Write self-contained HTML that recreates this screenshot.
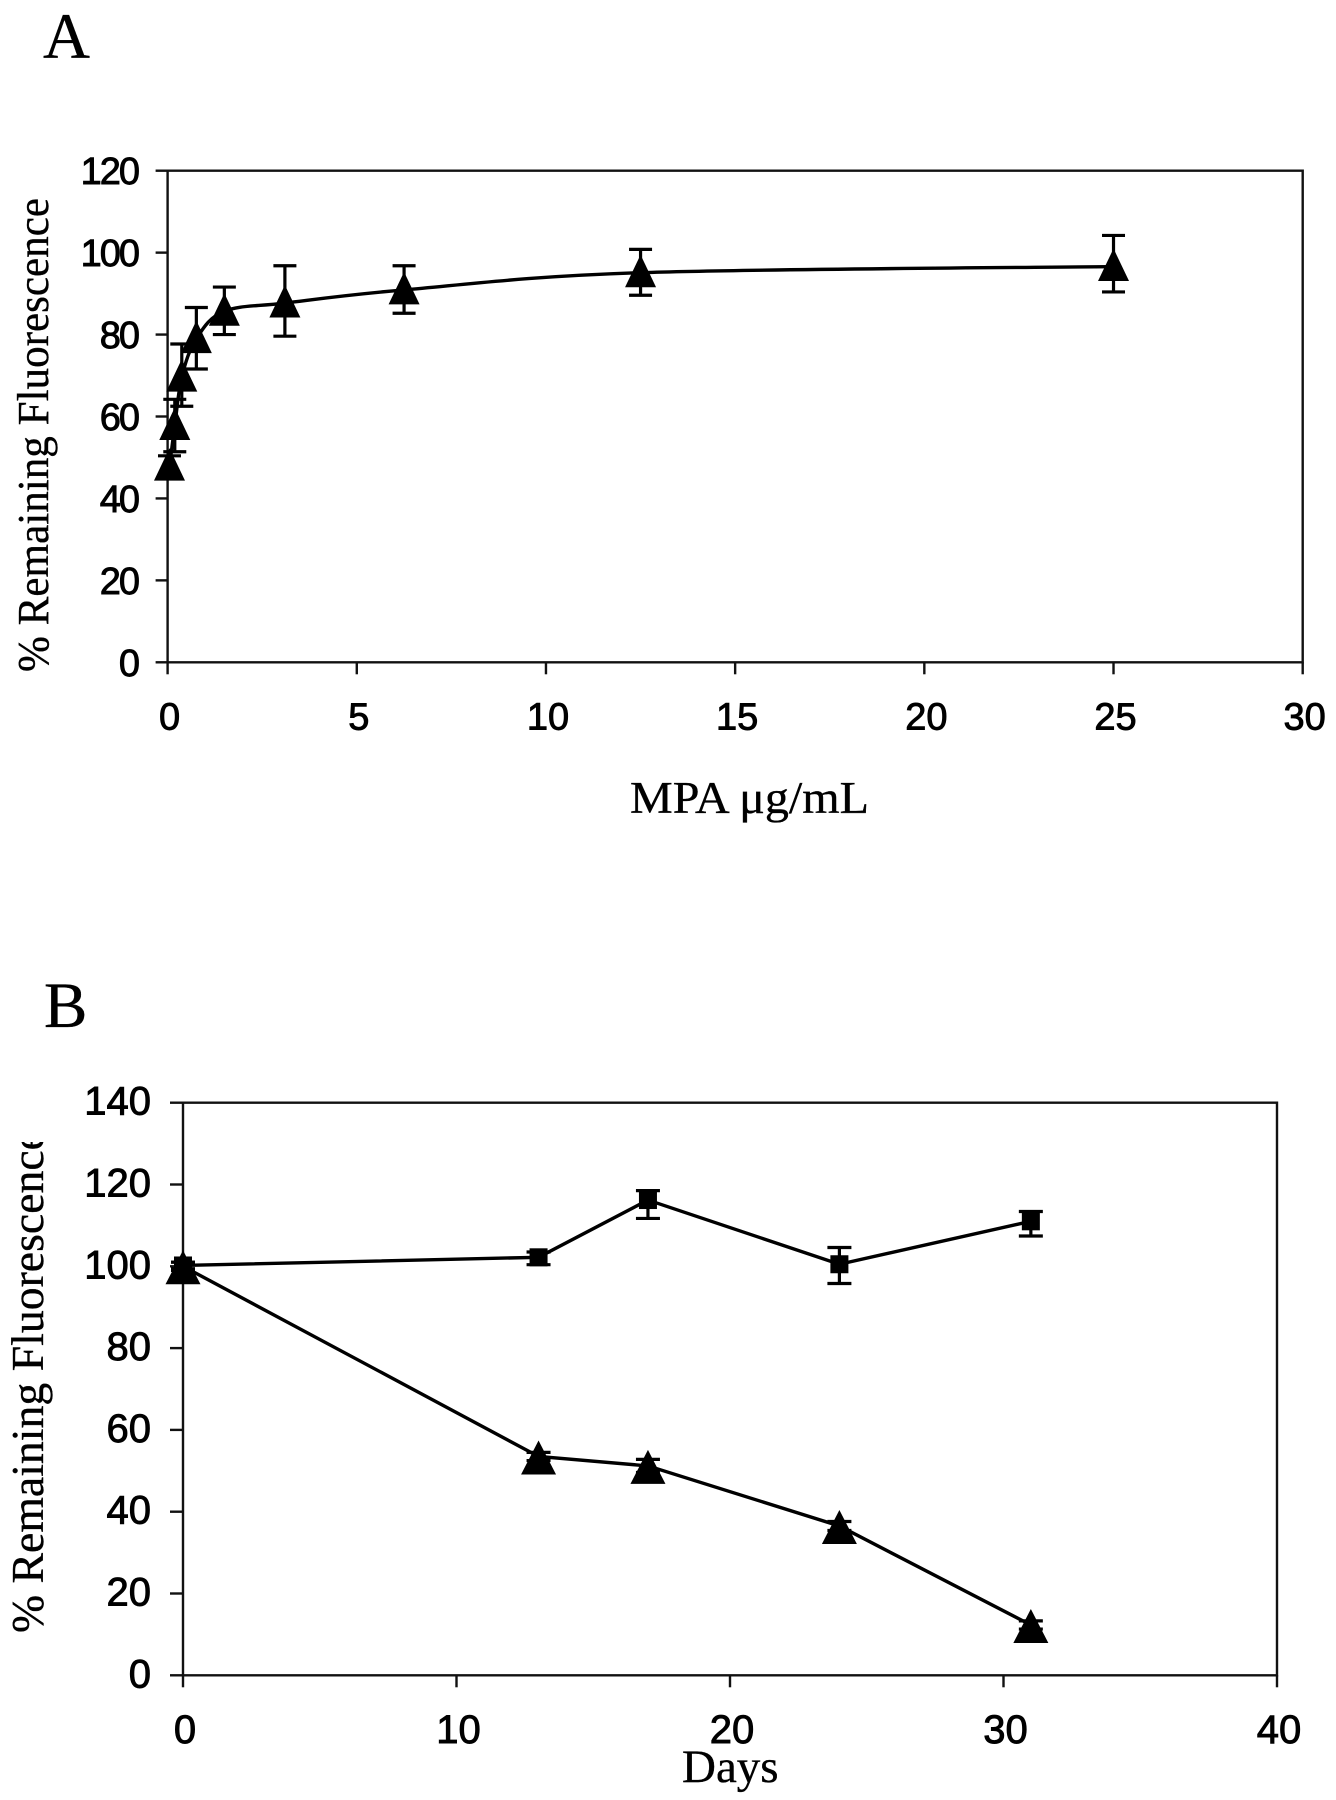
<!DOCTYPE html>
<html lang="en">
<head>
<meta charset="utf-8">
<title>Remaining fluorescence charts</title>
<style>
  html, body { margin: 0; padding: 0; background: #fff; }
  svg { display: block; }
  .tick-label { font-family: "Liberation Sans", sans-serif; fill: #000; stroke: #000; stroke-width: .9px; }
  .serif { font-family: "Liberation Serif", serif; fill: #000; stroke: #000; stroke-width: .35px; }
</style>
</head>
<body>
<svg id="fig" xmlns="http://www.w3.org/2000/svg" width="1336" height="1800" viewBox="0 0 1336 1800">
  <defs>
    <clipPath id="b-title-clip"><rect x="0" y="1142" width="70" height="520"/></clipPath>
  </defs>
  <rect x="0" y="0" width="1336" height="1800" fill="#fff"/>
  <text class="serif" x="43" y="58" font-size="65">A</text>
  <text class="serif" x="44" y="1027" font-size="65">B</text>
  <text class="serif" font-size="44" transform="translate(48,672) rotate(-90)" textLength="474" lengthAdjust="spacingAndGlyphs">% Remaining Fluorescence</text>
  <g clip-path="url(#b-title-clip)">
    <text class="serif" font-size="45.5" transform="translate(43,1633) rotate(-90)" textLength="503" lengthAdjust="spacingAndGlyphs">% Remaining Fluorescence</text>
  </g>
  <text class="serif" x="630" y="813" font-size="45" textLength="239" lengthAdjust="spacingAndGlyphs">MPA μg/mL</text>
  <text class="serif" x="682" y="1782" font-size="47">Days</text>
  <g id="panel-a"></g>
  <g id="panel-b"></g>
</svg>
<script>
// Panel A data
const aXTicks = [0, 5, 10, 15, 20, 25, 30];
const aYTicks = [0, 20, 40, 60, 80, 100, 120];
const aDose = [0.05, 0.19, 0.375, 0.76, 1.5, 3.1, 6.25, 12.5, 25];
const aFluorescence = [47.9, 57.8, 69.6, 79, 85.7, 87.7, 90.9, 95.1, 96.6];
const aUpper = [50.4, 64.2, 77.7, 86.6, 91.6, 96.8, 96.8, 100.8, 104.2];
const aLower = [45.5, 51.4, 62.5, 71.6, 80, 79.6, 85.2, 89.6, 90.4];

// Panel B data
const bXTicks = [0, 10, 20, 30, 40];
const bYTicks = [0, 20, 40, 60, 80, 100, 120, 140];
const bDays = [0, 13, 17, 24, 31];
const bControl = [100.2, 102.2, 116.2, 100.5, 111];
const bControlUpper = [101, 103.5, 118.5, 104.6, 113.4];
const bControlLower = [99.4, 100.4, 111.7, 95.8, 107.4];
const bTreated = [100, 53.5, 51.2, 36.5, 12.3];
const bTreatedUpper = [101, 54.5, 52.8, 37.6, 13.3];
const bTreatedLower = [99, 52.5, 49.6, 35.4, 11.3];

const NS = 'http://www.w3.org/2000/svg';
function make(parent, tag, attrs) {
  const node = document.createElementNS(NS, tag);
  for (const k in attrs) node.setAttribute(k, attrs[k]);
  parent.appendChild(node);
  return node;
}
function linearScale(d0, d1, r0, r1) {
  return function (v) { return r0 + (v - d0) * (r1 - r0) / (d1 - d0); };
}

function drawFrame(g, o) {
  const x = o.x, y = o.y;
  const left = x(o.xTicks[0]), right = x(o.xTicks[o.xTicks.length - 1]);
  const bottom = y(o.yTicks[0]), top = y(o.yTicks[o.yTicks.length - 1]);
  const frame = make(g, 'path', {
    d: 'M' + left + ' ' + top + 'H' + right + 'V' + bottom + 'H' + left + 'Z',
    fill: 'none', stroke: '#111', 'stroke-width': 2.4
  });
  
  

  o.yTicks.forEach(function (v) {
    const tick = make(g, 'line', { x1: left - o.tickLen, x2: left, y1: y(v), y2: y(v), stroke: '#111', 'stroke-width': 2.4 });
    
    
    const label = make(g, 'text', {
      class: 'tick-label', x: o.yLabelRight, y: y(v) + o.yLabelDy, 'font-size': o.fontSize,
      'text-anchor': 'end', 'letter-spacing': o.ySpacing
    });
    label.textContent = String(v);
    
    
  });
  o.xTicks.forEach(function (v) {
    const tick = make(g, 'line', { x1: x(v), x2: x(v), y1: bottom, y2: bottom + 12, stroke: '#111', 'stroke-width': 2.4 });
    
    
    const label = make(g, 'text', {
      class: 'tick-label', x: x(v) + 2, y: o.xLabelY, 'font-size': o.fontSize, 'text-anchor': 'middle'
    });
    label.textContent = String(v);
    
    
  });
}

function polyPath(pts) {
  return pts.map(function (p, i) { return (i ? 'L' : 'M') + p[0] + ' ' + p[1]; }).join('');
}
function smoothPath(pts) {
  let d = 'M' + pts[0][0] + ' ' + pts[0][1];
  for (let i = 0; i < pts.length - 1; i++) {
    const p0 = pts[Math.max(i - 1, 0)], p1 = pts[i], p2 = pts[i + 1], p3 = pts[Math.min(i + 2, pts.length - 1)];
    const c1x = p1[0] + (p2[0] - p0[0]) / 6, c1y = p1[1] + (p2[1] - p0[1]) / 6;
    const c2x = p2[0] - (p3[0] - p1[0]) / 6, c2y = p2[1] - (p3[1] - p1[1]) / 6;
    d += 'C' + c1x + ' ' + c1y + ' ' + c2x + ' ' + c2y + ' ' + p2[0] + ' ' + p2[1];
  }
  return d;
}

function drawSeries(g, o, s) {
  const x = o.x, y = o.y;
  const pts = s.xs.map(function (v, i) { return [x(v), y(s.ys[i])]; });
  const line = make(g, 'path', {
    d: s.smooth ? smoothPath(pts) : polyPath(pts), fill: 'none', stroke: '#000', 'stroke-width': 3.4
  });
  
  
  s.xs.forEach(function (v, i) {
    const px = x(v), hi = y(s.upper[i]), lo = y(s.lower[i]), w = s.capHalf;
    const err = make(g, 'path', {
      d: 'M' + px + ' ' + hi + 'V' + lo + 'M' + (px - w) + ' ' + hi + 'H' + (px + w) + 'M' + (px - w) + ' ' + lo + 'H' + (px + w),
      fill: 'none', stroke: '#000', 'stroke-width': 3.2
    });
    
    
    const py = y(s.ys[i]);
    let mark;
    if (s.marker === 'triangle') {
      mark = make(g, 'polygon', {
        points: px + ',' + (py - s.apex) + ' ' + (px - s.half) + ',' + (py + s.base) + ' ' + (px + s.half) + ',' + (py + s.base),
        fill: '#000'
      });
    } else {
      mark = make(g, 'rect', { x: px - s.half, y: py - s.half, width: s.half * 2, height: s.half * 2, fill: '#000' });
    }
    
    
  });
}

const panelA = {
  prefix: 'panel-a',
  x: linearScale(0, 30, 167.6, 1302.7),
  y: linearScale(0, 120, 662.3, 170.7),
  xTicks: aXTicks, yTicks: aYTicks,
  tickLen: 12, yLabelRight: 138, yLabelDy: 13.5, ySpacing: -2, xLabelY: 729.5, fontSize: 38
};
const panelB = {
  prefix: 'panel-b',
  x: linearScale(0, 40, 183, 1277),
  y: linearScale(0, 140, 1675.3, 1102.7),
  xTicks: bXTicks, yTicks: bYTicks,
  tickLen: 13, yLabelRight: 151, yLabelDy: 12, ySpacing: 0, xLabelY: 1743, fontSize: 40
};

const gA = document.getElementById('panel-a');
const gB = document.getElementById('panel-b');
drawFrame(gA, panelA);
drawFrame(gB, panelB);
drawSeries(gA, panelA, {
  name: 'mpa-response', xs: aDose, ys: aFluorescence, upper: aUpper, lower: aLower,
  smooth: true, marker: 'triangle', half: 15.5, apex: 18, base: 14.5, capHalf: 11.5
});
drawSeries(gB, panelB, {
  name: 'control', xs: bDays, ys: bControl, upper: bControlUpper, lower: bControlLower,
  smooth: false, marker: 'square', half: 9, capHalf: 12
});
drawSeries(gB, panelB, {
  name: 'treated', xs: bDays, ys: bTreated, upper: bTreatedUpper, lower: bTreatedLower,
  smooth: false, marker: 'triangle', half: 17.5, apex: 16, base: 18, capHalf: 12
});
</script>
</body>
</html>
